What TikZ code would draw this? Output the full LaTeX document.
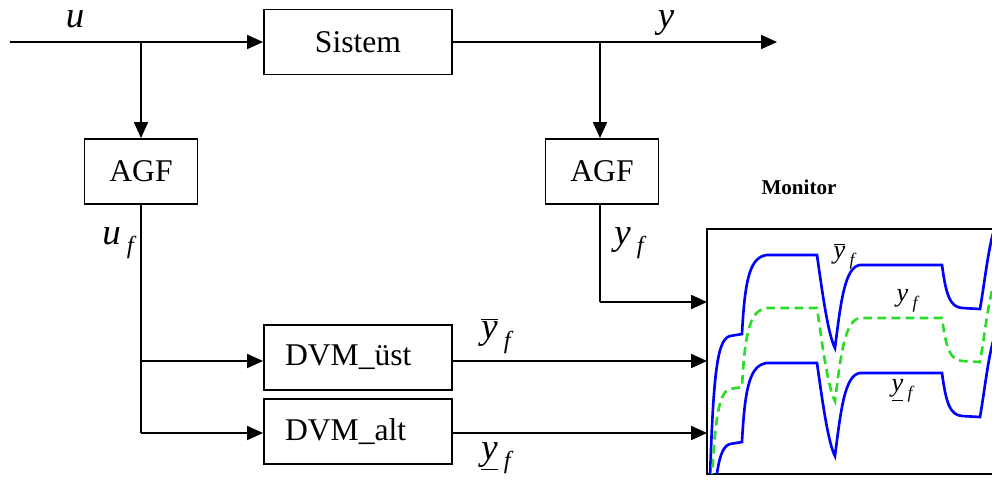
\documentclass[tikz,border=0pt]{standalone}
\usepackage{fontspec}
\setmainfont{Liberation Serif}
\usetikzlibrary{arrows.meta}
\definecolor{plotblue}{RGB}{0,0,255}
\definecolor{plotgreen}{RGB}{40,220,40}
\newcommand{\ybar}{$\overline{\mbox{\itshape y}}$}
\newcommand{\sbf}[1]{\,\raisebox{-0.55ex}{\fontsize{#1}{#1}\selectfont f}}

\begin{document}
\begin{tikzpicture}[x=0.02cm, y=-0.02cm, line width=1.1pt,
  blok/.style={draw, inner sep=0pt, minimum height=1.3cm, font=\fontsize{18}{21}\selectfont},
  dvm/.style={blok, text width=2.92cm, inner xsep=0.42cm, align=left},
  lab/.style={inner sep=0pt, font=\fontsize{21}{24}\selectfont\itshape},
  small/.style={inner sep=0pt, font=\fontsize{15}{17}\selectfont\itshape},
  ok/.style={-{Triangle[length=0.32cm, width=0.28cm]}},
  sig/.style={plotblue, line width=1.5pt},
  sigf/.style={plotgreen, line width=1.5pt, dash pattern=on 5pt off 3pt}]
\useasboundingbox (0,0) rectangle (992,481);

\node[blok, minimum width=3.76cm] (sis) at (358,42) {Sistem};
\node[blok, minimum width=2.26cm] (agfu) at (141,171.5) {AGF};
\node[blok, minimum width=2.26cm] (agfy) at (602,171.5) {AGF};
\node[dvm] (dvmu) at (358,357.5) {DVM\_üst};
\node[dvm] (dvma) at (358,431.5) {DVM\_alt};
\node[inner sep=0pt, minimum width=5.68cm, minimum height=4.86cm] (mon) at (850,351.5) {};
\node[font=\fontsize{12}{14}\selectfont\bfseries] (ttl) at (799,187) {Monitor};

\coordinate (uin) at (10,42);
\coordinate (bu) at (141,42);
\coordinate (by) at (600,42);
\coordinate (yout) at (777,42);
\coordinate (ky) at (600,302);
\coordinate (ku) at (141,361);
\coordinate (ka) at (141,433);

% signals
\draw[ok] (uin) -- (sis.west);
\draw[ok] (sis.east) -- (yout);
\draw[ok] (bu) -- (bu |- agfu.north);
\draw[ok] (by) -- (by |- agfy.north);
\draw (agfu.south) -- (ka);
\draw (by |- agfy.south) -- (ky);
\draw[ok] (ku) -- (ku -| dvmu.west);
\draw[ok] (ka) -- (ka -| dvma.west);
\draw[ok] (ky) -- (ky -| mon.west);
\draw[ok] (ku -| dvmu.east) -- (ku -| mon.west);
\draw[ok] (ka -| dvma.east) -- (ka -| mon.west);

\node[lab] (lu) at (75,19) {u};
\node[lab] (ly) at (666,23) {y};
\node[lab] (luf) at (118,243) {u\sbf{14}};
\node[lab] (lyf) at (629,243) {y\sbf{14}};
\node[lab] (lyo) at (496,336) {\ybar\sbf{14}};
\node[lab] (lya) at (496,458) {\underline{y}\sbf{14}};

% monitor
\draw (mon.north east) -- (mon.north west) -- (mon.south west) -- (mon.south east);
\begin{scope}
\clip (mon.south west) rectangle (mon.north east);
\foreach \off/\sty in {0/sig, 53/sigf, 108/sig} {
  \draw[\sty, shift={(0,\off)}] (708,555) .. controls (712,375) and (716,340) .. (730,336) -- (742,334)
    .. controls (745,275) and (751,257) .. (767,255) -- (817,255)
    .. controls (822,290) and (828,335) .. (835,348)
    .. controls (841,300) and (845,267) .. (860,265) -- (942,265)
    .. controls (946,295) and (950,307) .. (962,308) -- (980,309)
    .. controls (985,280) and (988,250) .. (994,230);
}
\end{scope}
\node[small] (myo) at (844,256) {\ybar\sbf{10}};
\node[small] (myf) at (907,301) {y\sbf{10}};
\node[small] (mya) at (902,391) {\underline{y}\sbf{10}};
\end{tikzpicture}
\end{document}
